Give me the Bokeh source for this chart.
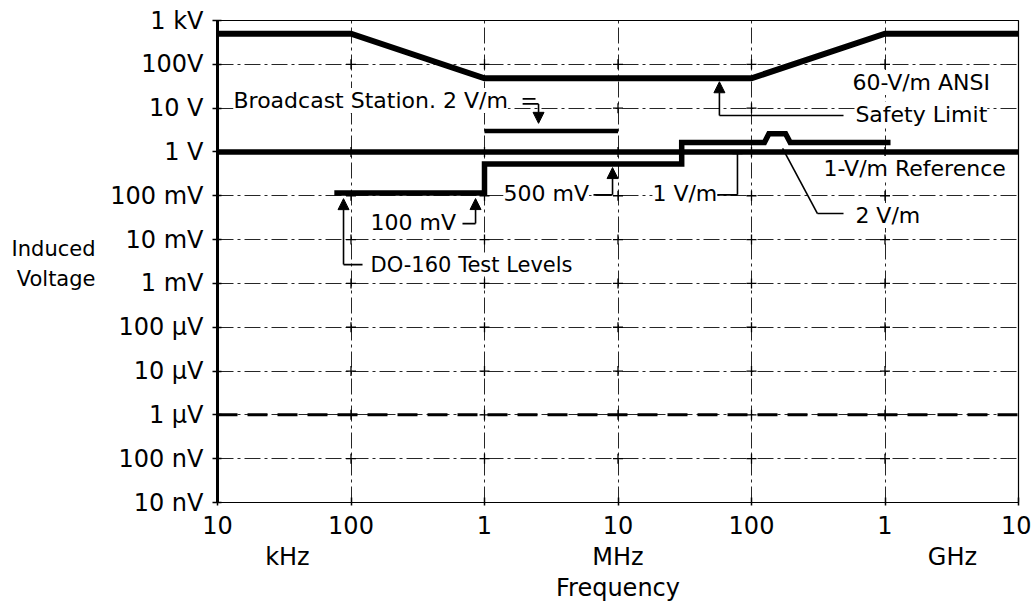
import numpy as np
from bokeh.plotting import figure
from bokeh.models import FixedTicker, Label, Arrow, NormalHead, TeeHead, Span, LogAxis
from bokeh.embed import file_html
from bokeh.resources import INLINE

FONT = "DejaVu Sans"

# ---- axis ticks ----
freq_ticks_hz = [1e4, 1e5, 1e6, 1e7, 1e8, 1e9, 1e10]
freq_tick_labels = ["10", "100", "1", "10", "100", "1", "10"]
volt_ticks = [1e3, 1e2, 1e1, 1e0, 1e-1, 1e-2, 1e-3, 1e-4, 1e-5, 1e-6, 1e-7, 1e-8]
volt_tick_labels = ["1 kV", "100V", "10 V", "1 V", "100 mV", "10 mV", "1 mV",
                    "100 μV", "10 μV", "1 μV", "100 nV", "10 nV"]
unit_positions_hz = [3.34e4, 1.0e7, 3.2e9]
unit_labels = ["kHz", "MHz", "GHz"]
ytitle_positions = [0.00624, 0.00129]
ytitle_lines = ["Induced", "Voltage"]

# ---- series ----
safety_freq_hz = [1e4, 1e5, 1e6, 1e8, 1e9, 1e10]
safety_volts = [500, 500, 48, 48, 500, 500]

reference_freq_hz = [1e4, 1e10]
reference_volts = [1.0, 1.0]

broadcast_freq_hz = [1e6, 1e7]
broadcast_volts = [3.0, 3.0]

do160_freq_hz = [7.5e4, 1e6, 1e6, 3e7, 3e7, 1.25e8, 1.35e8, 1.8e8, 1.95e8, 1.1e9]
do160_volts = [0.115, 0.115, 0.53, 0.53, 1.65, 1.65, 2.6, 2.6, 1.65, 1.65]

one_microvolt = 1e-6

p = figure(width=1031, height=605, x_axis_type="log", y_axis_type="log",
           x_range=(1e4, 1e10), y_range=(1e-8, 1e3),
           output_backend="svg", toolbar_location=None,
           min_border_left=217, min_border_right=13, min_border_top=20, min_border_bottom=103)

p.background_fill_color = "white"
p.border_fill_color = "white"
p.outline_line_color = "black"
p.outline_line_width = 1.2

# main axes
p.xaxis.ticker = FixedTicker(ticks=freq_ticks_hz, minor_ticks=[])
p.yaxis.ticker = FixedTicker(ticks=volt_ticks, minor_ticks=[])
p.xaxis.major_label_overrides = {t: l for t, l in zip(freq_ticks_hz, freq_tick_labels)}
p.yaxis.major_label_overrides = {t: l for t, l in zip(volt_ticks, volt_tick_labels)}
for ax in (p.xaxis, p.yaxis):
    ax.major_label_text_font = FONT
    ax.major_label_text_font_size = "24px"
    ax.major_label_text_color = "black"
    ax.major_tick_line_color = "black"
    ax.major_tick_line_width = 1.5
    ax.minor_tick_line_color = None
    ax.axis_line_color = "black"
p.yaxis.axis_line_width = 3
p.xaxis.axis_line_width = 1
p.yaxis.major_tick_in = 4
p.yaxis.major_tick_out = 5
p.yaxis.major_label_standoff = 9
p.xaxis.major_tick_in = 5
p.xaxis.major_tick_out = 3
p.xaxis.major_label_standoff = 10

# unit axis + "Frequency" title below
unit_axis = LogAxis(ticker=FixedTicker(ticks=unit_positions_hz, minor_ticks=[]),
                    major_label_overrides={t: l for t, l in zip(unit_positions_hz, unit_labels)},
                    axis_label="Frequency")
unit_axis.axis_line_color = None
unit_axis.major_tick_line_color = None
unit_axis.minor_tick_line_color = None
unit_axis.major_tick_in = 0
unit_axis.major_tick_out = 0
unit_axis.major_label_standoff = 6
unit_axis.major_label_text_font = FONT
unit_axis.major_label_text_font_size = "24px"
unit_axis.major_label_text_color = "black"
unit_axis.axis_label_standoff = 0
unit_axis.axis_label_text_font = FONT
unit_axis.axis_label_text_font_size = "24px"
unit_axis.axis_label_text_font_style = "normal"
unit_axis.axis_label_text_color = "black"
p.add_layout(unit_axis, "below")

# "Induced Voltage" title on the left
ytitle_axis = LogAxis(ticker=FixedTicker(ticks=ytitle_positions, minor_ticks=[]),
                      major_label_overrides={t: l for t, l in zip(ytitle_positions, ytitle_lines)})
ytitle_axis.axis_line_color = None
ytitle_axis.major_tick_line_color = None
ytitle_axis.minor_tick_line_color = None
ytitle_axis.major_tick_in = 0
ytitle_axis.major_tick_out = 0
ytitle_axis.major_label_standoff = 12
ytitle_axis.major_label_text_font = FONT
ytitle_axis.major_label_text_font_size = "21px"
ytitle_axis.major_label_text_color = "black"
p.add_layout(ytitle_axis, "left")

# grid
p.grid.grid_line_color = "black"
p.grid.grid_line_width = 1
p.grid.grid_line_alpha = 0.85
p.grid.grid_line_dash = "16 4 3 4"

# crosses at grid intersections
gx, gy = np.meshgrid(freq_ticks_hz[1:-1], volt_ticks[1:-1])
p.scatter(gx.ravel(), gy.ravel(), marker="cross", size=10,
          line_color="black", line_width=1.3)

# 1 uV dashed reference
p.add_layout(Span(location=one_microvolt, dimension="width", line_color="black",
                  line_width=3, line_dash="20 10"))

# data lines
p.line(safety_freq_hz, safety_volts, line_width=6, line_color="black", line_join="miter")
p.line(reference_freq_hz, reference_volts, line_width=5.5, line_color="black")
p.line(broadcast_freq_hz, broadcast_volts, line_width=4.5, line_color="black")
p.line(do160_freq_hz, do160_volts, line_width=5.5, line_color="black", line_join="miter")


def seg(x0, y0, x1, y1, head=None):
    p.add_layout(Arrow(x_start=x0, y_start=y0, x_end=x1, y_end=y1, end=head, start=None,
                       line_color="black", line_width=1.6))


def arrow_head():
    return NormalHead(size=11, fill_color="black", line_color="black")


def label(x, y, text, size="22px", align="left", bg=True):
    p.add_layout(Label(x=x, y=y, text=text, text_font=FONT, text_font_size=size,
                       text_align=align, text_baseline="middle", text_color="black",
                       background_fill_color="white" if bg else None))


# Broadcast station annotation
seg(1.93e6, 16.3, 2.41e6, 16.3)
seg(1.93e6, 12.5, 2.54e6, 12.5)
seg(2.54e6, 12.5, 2.54e6, 4.5, arrow_head())
label(1.318e4, 14.9, "Broadcast Station. 2 V/m")

# Safety limit annotation
seg(5.75e7, 6.8, 5.75e7, 40, arrow_head())
seg(5.75e7, 6.8, 4.89e8, 6.8)
label(5.71e8, 38.4, "60-V/m ANSI")
label(6.0e8, 7.3, "Safety Limit")

# reference
label(3.46e8, 0.418, "1-V/m Reference")

# 2 V/m bump
seg(1.71e8, 1.2, 3.12e8, 0.0393)
seg(3.12e8, 0.0393, 4.89e8, 0.0393)
label(6.0e8, 0.0353, "2 V/m")

# 1 V/m
seg(5.47e7, 0.105, 7.85e7, 0.105)
seg(7.85e7, 0.105, 7.85e7, 0.93, TeeHead(size=10, line_color="black", line_width=1.6))
label(1.81e7, 0.112, "1 V/m")

# 500 mV
seg(6.55e6, 0.105, 9.1e6, 0.105)
seg(9.1e6, 0.105, 9.1e6, 0.44, arrow_head())
label(1.39e6, 0.112, "500 mV")

# 100 mV
seg(6.84e5, 0.0232, 8.57e5, 0.0232)
seg(8.57e5, 0.0232, 8.57e5, 0.0863, arrow_head())
label(1.40e5, 0.0244, "100 mV")

# DO-160
seg(8.79e4, 0.00269, 8.79e4, 0.086, arrow_head())
seg(8.79e4, 0.00269, 1.22e5, 0.00269)
label(1.40e5, 0.00269, "DO-160 Test Levels", size="21px")

open("out.html", "w").write(file_html(p, INLINE))
